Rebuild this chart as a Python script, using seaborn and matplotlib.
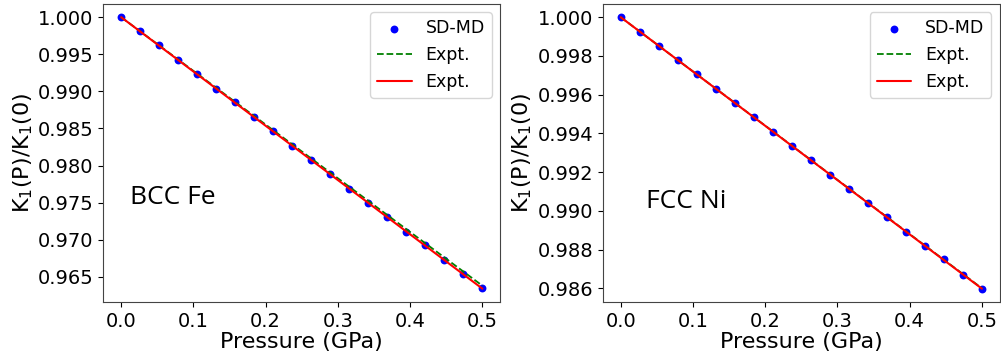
import numpy as np
import pandas as pd
import seaborn as sns
import matplotlib
matplotlib.use('Agg')
import matplotlib.pyplot as plt
from matplotlib.ticker import MultipleLocator, FormatStrFormatter

# pressure grid (GPa)
pressure = [0.0, 0.0263, 0.0526, 0.0789, 0.1053, 0.1316, 0.1579, 0.1842, 0.2105, 0.2368,
            0.2632, 0.2895, 0.3158, 0.3421, 0.3684, 0.3947, 0.4211, 0.4474, 0.4737, 0.5]

# BCC Fe, SD-MD
fe_sdmd = [1.0000, 0.99819, 0.99625, 0.99422, 0.99237, 0.99038, 0.98853, 0.98659, 0.98460, 0.98270,
           0.98076, 0.97886, 0.97688, 0.97498, 0.97308, 0.97110, 0.96925, 0.96730, 0.96532, 0.96347]
# FCC Ni, SD-MD
ni_sdmd = [1.00000, 0.99924, 0.99850, 0.99779, 0.99708, 0.99628, 0.99556, 0.99485, 0.99405, 0.99335,
           0.99264, 0.99184, 0.99112, 0.99041, 0.98970, 0.98890, 0.98820, 0.98749, 0.98669, 0.98598]

# experimental lines (end points)
expt_p = [0.0, 0.5]
fe_expt_green = [1.0, 0.9638]
fe_expt_red = [1.0, 0.9634]
ni_expt_green = [1.0, 0.98600]
ni_expt_red = [1.0, 0.98598]

sns.set_style('ticks')
plt.rcParams['font.family'] = ['DejaVu Sans']
plt.rcParams['text.color'] = 'black'
plt.rcParams['axes.labelcolor'] = 'black'
plt.rcParams['xtick.color'] = 'black'
plt.rcParams['ytick.color'] = 'black'

fig, axes = plt.subplots(1, 2, figsize=(10.01, 3.62), dpi=100)
plt.subplots_adjust(left=0.103, right=0.999, top=0.99, bottom=0.165, wspace=0.257)

panels = [
    (axes[0], fe_sdmd, fe_expt_green, fe_expt_red, 'BCC Fe', 0.005, (0.068, 0.33)),
    (axes[1], ni_sdmd, ni_expt_green, ni_expt_red, 'FCC Ni', 0.002, (0.11, 0.315)),
]

for ax, sdmd, green, red, name, step, pos in panels:
    sns.scatterplot(x=pressure, y=sdmd, ax=ax, color='blue', s=32, linewidth=0,
                    label='SD-MD', zorder=2)
    sns.lineplot(x=expt_p, y=green, ax=ax, color='green', linestyle='--', linewidth=1.3,
                 label='Expt.', zorder=3)
    sns.lineplot(x=expt_p, y=red, ax=ax, color='red', linewidth=1.5,
                 label='Expt.', zorder=4)
    ax.yaxis.set_major_locator(MultipleLocator(step))
    ax.yaxis.set_major_formatter(FormatStrFormatter('%.3f'))
    ax.xaxis.set_major_locator(MultipleLocator(0.1))
    ax.tick_params(labelsize=14)
    ax.set_xlabel('Pressure (GPa)', fontsize=16, labelpad=1)
    ax.set_ylabel('K$_1$(P)/K$_1$(0)', fontsize=16, labelpad=2)
    ax.text(pos[0], pos[1], name, transform=ax.transAxes, fontsize=19, family='Open Sans')
    ax.legend(loc='upper right', fontsize=12.5)
    for sp in ax.spines.values():
        sp.set_color('#444444')

plt.savefig('out.png')
